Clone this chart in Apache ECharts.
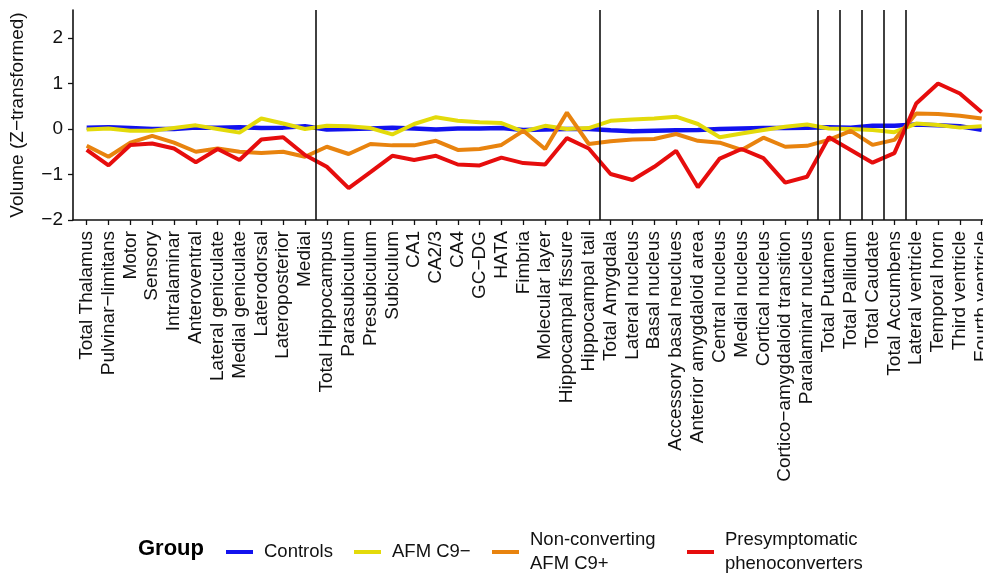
<!DOCTYPE html>
<html>
<head>
<meta charset="utf-8">
<title>Regional volumes by group</title>
<script src="https://cdn.jsdelivr.net/npm/echarts@6/dist/echarts.min.js"></script>
<style>
  html, body { margin: 0; padding: 0; background: #ffffff; overflow: hidden; }
  #chart { width: 983px; height: 573px; }
</style>
</head>
<body>
<div id="chart"></div>
<script>
// Brain regions along the x axis
const regions = [
  'Total Thalamus', 'Pulvinar\u2212limitans', 'Motor', 'Sensory', 'Intralaminar',
  'Anteroventral', 'Lateral geniculate', 'Medial geniculate', 'Laterodorsal',
  'Lateroposterior', 'Medial',
  'Total Hippocampus', 'Parasubiculum', 'Presubiculum', 'Subiculum', 'CA1', 'CA2/3',
  'CA4', 'GC\u2212DG', 'HATA', 'Fimbria', 'Molecular layer', 'Hippocampal fissure',
  'Hippocampal tail',
  'Total Amygdala', 'Lateral nucleus', 'Basal nucleus', 'Accessory basal neuclues',
  'Anterior amygdaloid area', 'Central nucleus', 'Medial nucleus', 'Cortical nucleus',
  'Cortico\u2212amygdaloid transition', 'Paralaminar nucleus',
  'Total Putamen', 'Total Pallidum', 'Total Caudate', 'Total Accumbens',
  'Lateral ventricle', 'Temporal horn', 'Third ventricle', 'Fourth ventricle'
];

// Mean Z-transformed volume per group
const controls = [
  0.03, 0.04, 0.02, 0.00, 0.00, 0.03, 0.03, 0.04, 0.02, 0.03, 0.06,
  -0.01, 0.00, 0.01, 0.03, 0.01, -0.01, 0.01, 0.01, 0.02, -0.02, -0.01, 0.00, 0.00,
  -0.03, -0.05, -0.04, -0.03, -0.02, 0.00, 0.01, 0.02, 0.02, 0.03,
  0.04, 0.03, 0.07, 0.07,
  0.10, 0.08, 0.06, -0.02
];
const afmNeg = [
  -0.01, 0.01, -0.04, -0.04, 0.02, 0.08, 0.00, -0.08, 0.23, 0.12, 0.00,
  0.07, 0.06, 0.02, -0.12, 0.11, 0.26, 0.18, 0.15, 0.13, -0.06, 0.07, 0.00, 0.02,
  0.18, 0.21, 0.23, 0.27, 0.11, -0.18, -0.10, -0.02, 0.05, 0.10,
  0.01, 0.00, -0.02, -0.07,
  0.12, 0.09, 0.03, 0.06
];
const nonConverting = [
  -0.37, -0.61, -0.30, -0.15, -0.30, -0.50, -0.43, -0.50, -0.53, -0.50, -0.61,
  -0.39, -0.55, -0.33, -0.36, -0.36, -0.26, -0.46, -0.44, -0.35, -0.04, -0.44, 0.36, -0.33,
  -0.27, -0.23, -0.22, -0.11, -0.26, -0.30, -0.46, -0.19, -0.39, -0.37,
  -0.24, -0.04, -0.35, -0.24,
  0.34, 0.33, 0.29, 0.23
];
const phenoconverters = [
  -0.46, -0.80, -0.35, -0.32, -0.43, -0.73, -0.44, -0.68, -0.23, -0.18, -0.57,
  -0.83, -1.30, -0.95, -0.59, -0.68, -0.59, -0.78, -0.80, -0.63, -0.75, -0.78, -0.20, -0.43,
  -0.99, -1.12, -0.83, -0.48, -1.28, -0.65, -0.44, -0.64, -1.18, -1.05,
  -0.18, -0.46, -0.74, -0.53,
  0.56, 1.00, 0.78, 0.37
];

// Boundaries between region groups (between neighbouring categories)
const groupBreaks = [10.5, 23.5, 33.5, 34.5, 35.5, 36.5, 37.5];

const groupNames = ['Controls', 'AFM C9\u2212', 'Non-converting AFM C9+', 'Presymptomatic phenoconverters'];
const legendLabels = ['Controls', 'AFM C9\u2212', 'Non-converting\nAFM C9+', 'Presymptomatic\nphenoconverters'];
const groupColors = ['#1212ee', '#e3da0a', '#e8830e', '#e60d0d'];
const groupValues = [controls, afmNeg, nonConverting, phenoconverters];

const FONT = '"Liberation Sans", Arial, Helvetica, sans-serif';
const minus = v => String(v).replace('-', '\u2212');
const idx = regions.map((_, i) => i);

const series = groupNames.map((name, g) => ({
  name: name,
  type: 'line',
  data: groupValues[g].map((v, i) => [i, v]),
  showSymbol: false,
  symbol: 'none',
  lineStyle: { color: groupColors[g], width: g === 0 ? 4.5 : 4 },
  itemStyle: { color: groupColors[g] },
  emphasis: { disabled: true },
  animation: false
}));

series[0].markLine = {
  silent: true,
  symbol: ['none', 'none'],
  label: { show: false },
  lineStyle: { color: '#111111', width: 1.6, type: 'solid' },
  emphasis: { disabled: true },
  data: groupBreaks.map(b => ({ xAxis: b }))
};

// Legend entries positioned one by one
const iconLeft = [221, 349, 487, 682];
const legends = groupNames.map((name, g) => ({
  data: [name],
  left: iconLeft[g],
  top: g >= 2 ? 523 : 535,
  orient: 'horizontal',
  icon: 'rect',
  itemWidth: 27,
  itemHeight: 4,
  selectedMode: false,
  formatter: () => legendLabels[g],
  textStyle: {
    fontFamily: FONT, fontSize: 18.5, color: '#111111',
    lineHeight: 24, padding: [0, 0, 0, 6]
  }
}));

const chart = echarts.init(document.getElementById('chart'), null, { renderer: 'canvas' });
chart.setOption({
  backgroundColor: '#ffffff',
  animation: false,
  title: {
    text: 'Group',
    left: 133,
    top: 533,
    textStyle: { fontFamily: FONT, fontSize: 22, fontWeight: 'bold', color: '#000000' }
  },
  legend: legends,
  grid: { left: 73, top: 10, width: 922, height: 210, containLabel: false, outerBoundsMode: 'none' },
  xAxis: {
    type: 'value',
    min: -0.627,
    max: 41.61,
    splitLine: { show: false },
    axisLine: { show: true, onZero: false, lineStyle: { color: '#111111', width: 1.6 } },
    axisTick: { show: true, customValues: idx, length: 5, lineStyle: { color: '#111111', width: 1.3 } },
    axisLabel: {
      customValues: idx,
      rotate: 90,
      margin: 11,
      fontFamily: FONT,
      fontSize: 19,
      color: '#111111',
      formatter: v => regions[Math.round(v)]
    }
  },
  yAxis: {
    type: 'value',
    min: -2,
    max: 2.615,
    interval: 1,
    name: 'Volume (Z\u2212transformed)',
    nameLocation: 'middle',
    nameGap: 46,
    nameTextStyle: { fontFamily: FONT, fontSize: 19, color: '#111111' },
    splitLine: { show: false },
    axisLine: { show: true, onZero: false, lineStyle: { color: '#111111', width: 1.6 } },
    axisTick: { show: true, length: 5, lineStyle: { color: '#111111', width: 1.3 } },
    axisLabel: {
      margin: 10,
      fontFamily: FONT,
      fontSize: 19,
      color: '#111111',
      showMaxLabel: false,
      formatter: v => (Number.isInteger(v) ? minus(v) : '')
    }
  },
  series: series
});
</script>
</body>
</html>
